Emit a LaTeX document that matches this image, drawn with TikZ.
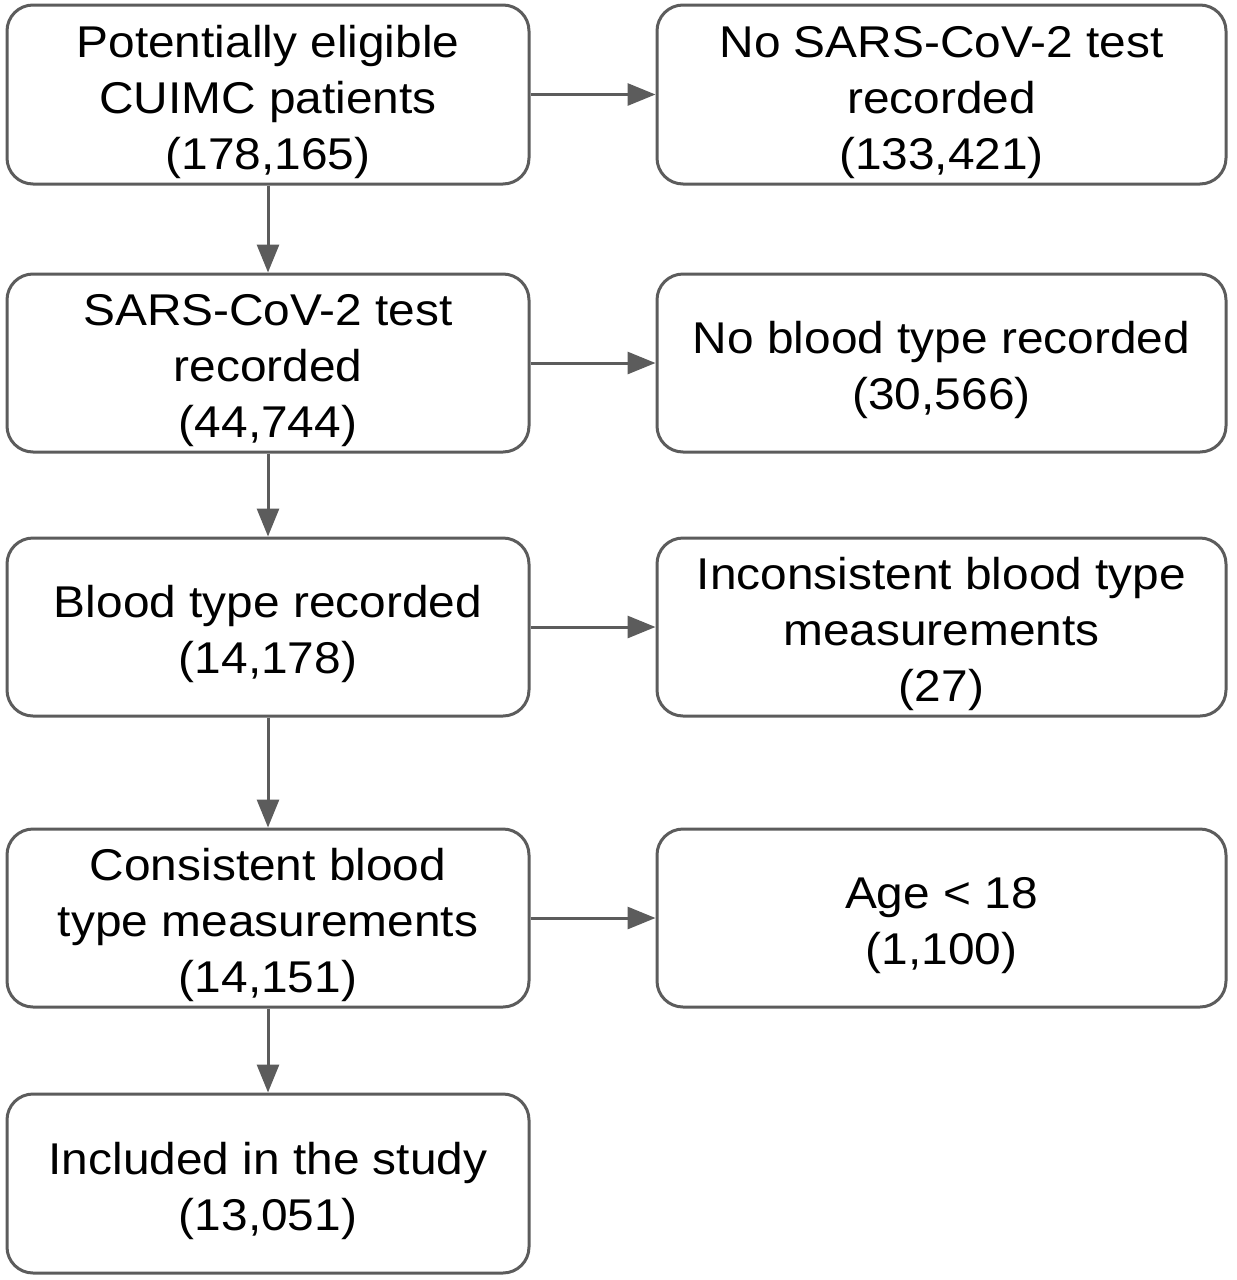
\documentclass[tikz,border=0pt]{standalone}
\usepackage{fontspec}
\setmainfont{Liberation Sans}[FakeStretch=1.075]
\usetikzlibrary{arrows.meta}
\definecolor{linegray}{RGB}{92,92,92}
\newcommand\topstrut{\rule{0pt}{47pt}}
\begin{document}
\begin{tikzpicture}[x=1pt,y=-1pt,
  box/.style={draw=linegray, line width=3pt, rounded corners=26pt, fill=white,
    align=center, inner sep=0pt, font=\fontsize{44.5}{56}\selectfont, text=black},
  lbox/.style={box, minimum width=522pt},
  rbox/.style={box, minimum width=569pt},
  conn/.style={draw=linegray, line width=3pt, -{Triangle[length=28pt,width=22pt]}}
]
\useasboundingbox (0,0) rectangle (1237,1280);
\node[lbox, minimum height=179pt] (a) at (268,94.5) {\topstrut Potentially eligible\\CUIMC patients\\(178,165)};
\node[lbox, minimum height=178pt] (b) at (268,363) {\topstrut SARS-CoV-2 test\\recorded\\(44,744)};
\node[lbox, minimum height=178pt] (c) at (268,627) {\topstrut Blood type recorded\\(14,178)};
\node[lbox, minimum height=178pt] (d) at (268,918) {\topstrut Consistent blood\\type measurements\\(14,151)};
\node[lbox, minimum height=179pt] (e) at (268,1183.5) {\topstrut Included in the study\\(13,051)};
\node[rbox, minimum height=179pt] (ra) at (941.5,94.5) {\topstrut No SARS-CoV-2 test\\recorded\\(133,421)};
\node[rbox, minimum height=178pt] (rb) at (941.5,363) {\topstrut No blood type recorded\\(30,566)};
\node[rbox, minimum height=178pt] (rc) at (941.5,627) {\topstrut Inconsistent blood type\\measurements\\(27)};
\node[rbox, minimum height=178pt] (rd) at (941.5,918) {\topstrut Age < 18\\(1,100)};
\draw[conn] (a) -- (b);
\draw[conn] (b) -- (c);
\draw[conn] (c) -- (d);
\draw[conn] (d) -- (e);
\draw[conn] (a) -- (ra);
\draw[conn] (b) -- (rb);
\draw[conn] (c) -- (rc);
\draw[conn] (d) -- (rd);
\end{tikzpicture}
\end{document}
